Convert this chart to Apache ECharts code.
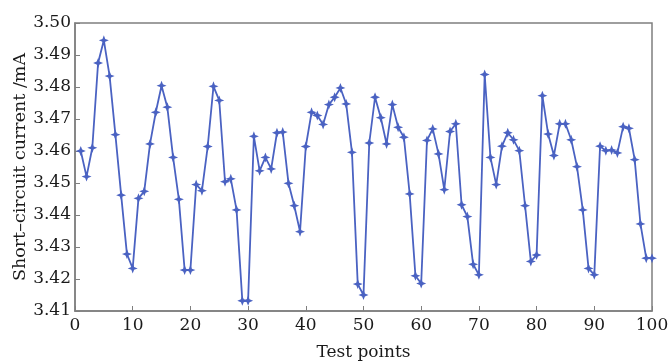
<!DOCTYPE html>
<html>
<head>
<meta charset="utf-8">
<script src="https://cdn.jsdelivr.net/npm/echarts@6/dist/echarts.min.js"></script>
<style>
  html, body { margin: 0; padding: 0; background: #fff; }
  #chart { width: 670px; height: 363px; }
</style>
</head>
<body>
<div id="chart"></div>
<script>
// test point index 1..100
const testPoints = Array.from({ length: 100 }, (_, i) => i + 1);

// short-circuit current, mA
const currentValues = [
    3.460, 3.452, 3.461, 3.4875, 3.4946, 3.4834, 3.4651, 3.4462, 3.4278, 3.4233,
    3.4452, 3.4474, 3.4622, 3.4721, 3.4804, 3.4737, 3.4580, 3.4449, 3.4228, 3.4228,
    3.4495, 3.4476, 3.4614, 3.4802, 3.4758, 3.4504, 3.4513, 3.4416, 3.4132, 3.4132,
    3.4646, 3.4538, 3.4580, 3.4544, 3.4657, 3.4659, 3.4499, 3.4429, 3.4348, 3.4614,
    3.4721, 3.4711, 3.4683, 3.4745, 3.4768, 3.4797, 3.4747, 3.4596, 3.4184, 3.4150,
    3.4625, 3.4768, 3.4704, 3.4622, 3.4745, 3.4674, 3.4643, 3.4466, 3.4210, 3.4186,
    3.4633, 3.4669, 3.4591, 3.4479, 3.4661, 3.4685, 3.4432, 3.4395, 3.4246, 3.4213,
    3.4839, 3.4580, 3.4495, 3.4615, 3.4657, 3.4635, 3.4601, 3.4429, 3.4255, 3.4275,
    3.4773, 3.4653, 3.4586, 3.4685, 3.4685, 3.4635, 3.4551, 3.4416, 3.4233, 3.4213,
    3.4615, 3.4601, 3.4603, 3.4594, 3.4676, 3.4671, 3.4573, 3.4372, 3.4265, 3.4265
];

const xTicks = { min: 0, max: 100, step: 10 };
const yTicks = { min: 3.41, max: 3.50, step: 0.01 };

const chart = echarts.init(document.getElementById('chart'));

const axisGrey = '#7f7f7f';
const textColor = '#1a1a1a';
const fontFamily = '"DejaVu Serif", "Liberation Serif", serif';

// four-point star marker
const starPath = 'path://M0,-10 L2.8,-2.8 L10,0 L2.8,2.8 L0,10 L-2.8,2.8 L-10,0 L-2.8,-2.8 Z';

const option = {
    backgroundColor: '#fff',
    animation: false,
    grid: {
        left: 75,
        right: 18,
        top: 23,
        bottom: 52,
        outerBoundsMode: 'none',
        containLabel: false,
        show: true,
        borderColor: axisGrey,
        borderWidth: 1.5
    },
    xAxis: {
        type: 'value',
        min: xTicks.min,
        max: xTicks.max,
        interval: xTicks.step,
        name: 'Test points',
        nameLocation: 'middle',
        nameGap: 33,
        nameMoveOverlap: false,
        nameTextStyle: { fontFamily, fontSize: 17, color: textColor },
        axisLine: { show: true, lineStyle: { color: axisGrey, width: 1.5 } },
        axisTick: { show: true, inside: true, length: 5, lineStyle: { color: axisGrey } },
        axisLabel: { fontFamily, fontSize: 17, color: textColor, margin: 6 },
        splitLine: { show: false }
    },
    yAxis: {
        type: 'value',
        min: yTicks.min,
        max: yTicks.max,
        interval: yTicks.step,
        name: 'Short–circuit current /mA',
        nameLocation: 'middle',
        nameGap: 46,
        nameMoveOverlap: false,
        nameTextStyle: { fontFamily, fontSize: 17.5, color: textColor },
        axisLine: { show: true, lineStyle: { color: axisGrey, width: 1.5 } },
        axisTick: { show: true, inside: true, length: 5, lineStyle: { color: axisGrey } },
        axisLabel: {
            fontFamily, fontSize: 17, color: textColor, margin: 4,
            formatter: (v) => v.toFixed(2)
        },
        splitLine: { show: false }
    },
    series: [{
        type: 'line',
        data: testPoints.map((x, i) => [x, currentValues[i]]),
        symbol: starPath,
        symbolSize: 10,
        showAllSymbol: true,
        lineStyle: { color: '#4a62c2', width: 1.8 },
        itemStyle: { color: '#4a62c2' }
    }]
};

chart.setOption(option);
</script>
</body>
</html>
